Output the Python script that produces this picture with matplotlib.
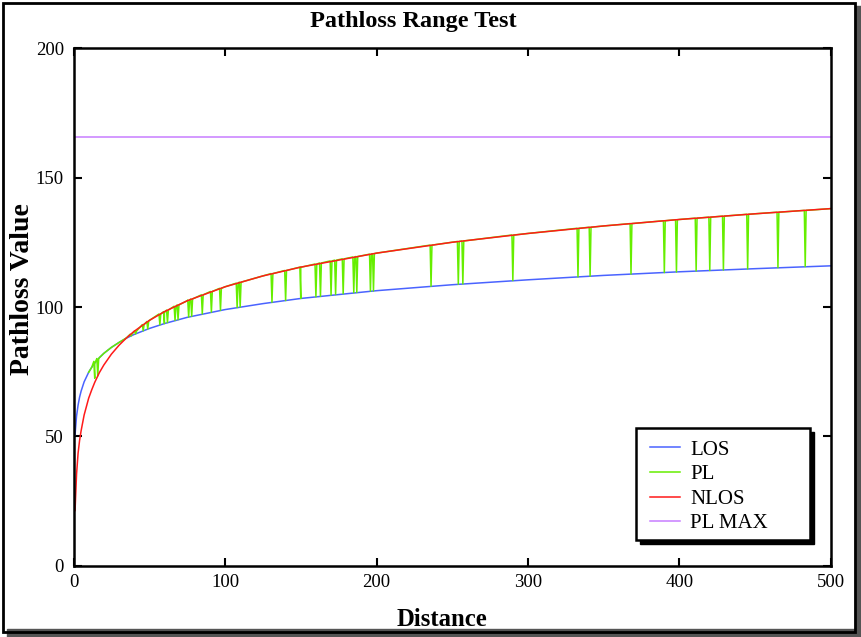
import numpy as np
import matplotlib
matplotlib.use("Agg")
import matplotlib.pyplot as plt
from matplotlib.patches import Rectangle

dist = [1, 2, 3, 4, 5, 7, 10, 12, 14, 17, 20, 25, 30, 35, 40, 50, 60, 75,
        100, 125, 150, 200, 250, 300, 350, 400, 450, 500]
los = [50.6, 57.9, 62.1, 65.2, 67.5, 71.1, 74.8, 76.7, 78.3, 80.4, 82.1, 84.4,
       86.3, 88.0, 89.4, 91.7, 93.6, 96.0, 99.0, 101.3, 103.3, 106.3, 108.6,
       110.5, 112.2, 113.6, 114.8, 115.9]
nlos = [21.4, 35.5, 43.5, 48.5, 52.2, 58.3, 64.8, 68.0, 70.9, 74.6, 77.6, 81.8,
        85.2, 88.1, 90.6, 94.8, 98.2, 102.4, 107.8, 112.0, 115.4, 120.8, 125.0,
        128.4, 131.3, 133.8, 136.0, 138.0]
pl_max = 165.5

# PL starts at d=10, follows LOS up to the crossover, NLOS after it
pl_start = 10
pl_switch = 34
# spikes of PL: where it jumps from its base curve to the other curve
spike_d = [14, 16, 38, 41, 46, 49, 57, 60, 62, 67, 69, 76, 78, 85, 91, 97,
           108, 110, 131, 140, 150, 160, 163, 170, 173, 178, 185, 187, 196,
           198, 236, 254, 257, 290, 333, 341, 368, 390, 398, 411, 420, 429,
           445, 465, 483]
spike_base = [79.0, 80.1, 89.5, 90.7, 93.2, 94.4, 97.3, 98.2, 98.8, 100.3,
              100.8, 102.7, 103.1, 104.7, 106.0, 107.2, 109.2, 109.6, 112.9,
              114.1, 115.4, 116.6, 117.0, 117.8, 118.1, 118.6, 119.3, 119.5,
              120.4, 120.6, 123.9, 125.3, 125.5, 127.8, 130.4, 130.8, 132.2,
              133.3, 133.7, 134.3, 134.7, 135.1, 135.8, 136.6, 137.3]
spike_alt = [72.5, 73.4, 88.8, 89.6, 90.8, 91.5, 93.1, 93.6, 94.0, 94.8,
             95.1, 96.1, 96.4, 97.3, 98.0, 98.7, 99.8, 100.0, 101.8, 102.5,
             103.3, 103.9, 104.1, 104.6, 104.8, 105.1, 105.5, 105.6, 106.1,
             106.2, 108.0, 108.8, 108.9, 110.2, 111.6, 111.9, 112.7, 113.3,
             113.5, 113.9, 114.1, 114.3, 114.7, 115.2, 115.6]

# build the PL polyline from the read values
pts = []
for d, l, n in zip(dist, los, nlos):
    if d < pl_start:
        continue
    pts.append((d, l if d < pl_switch else n))
for d, b, a in zip(spike_d, spike_base, spike_alt):
    pts += [(d - 0.6, b), (d, a), (d + 0.6, b)]
pts.sort()
pl_x = [p[0] for p in pts]
pl_y = [p[1] for p in pts]

plt.rcParams['font.family'] = ['Liberation Serif', 'DejaVu Serif']

fig = plt.figure(figsize=(8.62, 6.37), dpi=100)
ax = fig.add_axes([0.0853, 0.1115, 0.8787, 0.8131])

ax.plot(dist, los, color='#4a63ff', lw=1.1, label='LOS')
ax.plot(pl_x, pl_y, color='#66ee00', lw=1.1, label='PL')
ax.plot(dist, nlos, color='#ff1a1a', lw=1.1, label='NLOS')
ax.plot([0, 500], [pl_max, pl_max], color='#c77dff', lw=1.1, label='PL MAX')

ax.set_xlim(0, 500)
ax.set_ylim(0, 200)
ax.set_xticks(range(0, 501, 100))
ax.set_yticks(range(0, 201, 50))
ax.tick_params(direction='in', length=6, width=1.5, top=True, right=True,
               labelsize=13.5)
ax.tick_params(axis='x', pad=6)
ax.tick_params(axis='y', pad=7)
for s in ax.spines.values():
    s.set_linewidth(1.8)

fig.text(0.48, 0.967, 'Pathloss Range Test', fontsize=17.5, fontweight='bold',
         ha='center', va='center')
ax.set_xlabel('Distance', fontsize=17.8, fontweight='bold')
ax.xaxis.set_label_coords(0.487, -0.081)
ax.set_ylabel('Pathloss Value', fontsize=20, fontweight='bold')
ax.yaxis.set_label_coords(-0.051, 0.535)

# legend box drawn by hand (wide frame with a black drop shadow)
bx, by, bw, bh = 0.7426, 0.05, 0.2297, 0.2162
ax.add_patch(Rectangle((bx + 0.0055, by - 0.008), bw, bh, transform=ax.transAxes,
                       color='black', zorder=5))
ax.add_patch(Rectangle((bx, by), bw, bh, transform=ax.transAxes, fc='white',
                       ec='black', lw=1.8, zorder=6))
leg = ax.legend(loc='upper left', bbox_to_anchor=(bx, by + bh + 0.003),
                borderaxespad=0, frameon=False, fontsize=15, handlelength=1.45,
                labelspacing=0.24, borderpad=0.65, handletextpad=0.5)
leg.set_zorder(7)

# figure frame with a drop shadow on right / bottom
fig.patches.append(Rectangle((0.008, 0.0), 0.992, 0.012, transform=fig.transFigure,
                             color='#555555', zorder=0))
fig.patches.append(Rectangle((0.992, 0.0), 0.008, 0.99, transform=fig.transFigure,
                             color='#555555', zorder=0))
fig.patches.append(Rectangle((0.004, 0.008), 0.988, 0.987, transform=fig.transFigure,
                             fill=False, ec='black', lw=2.0, zorder=1))

fig.savefig('out.png', dpi=100)
